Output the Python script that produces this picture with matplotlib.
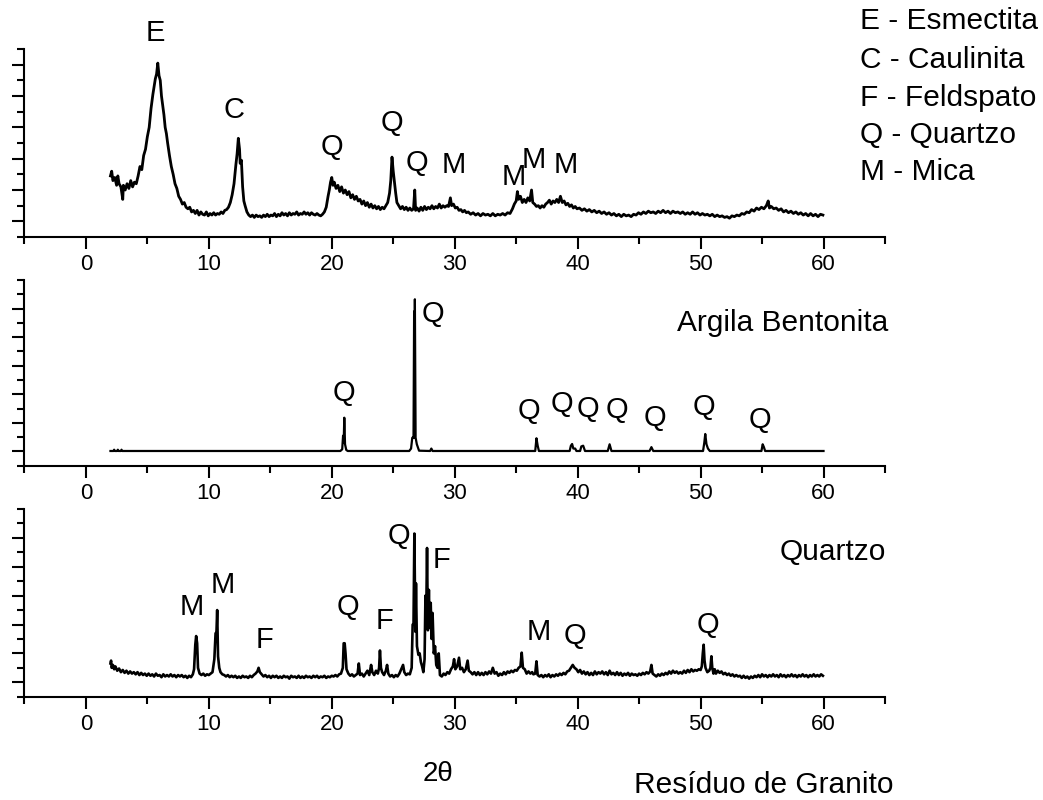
import matplotlib
matplotlib.use('Agg')
import matplotlib.pyplot as plt

plt.rcParams['font.family'] = ['Liberation Sans', 'DejaVu Sans']

# Argila Bentonita (top panel)
bent_x = [
    2.00, 2.10, 2.20, 2.35, 2.50, 2.60, 2.70, 2.85, 3.00, 3.05,
    3.20, 3.35, 3.50, 3.65, 3.80, 3.95, 4.10, 4.25, 4.40, 4.55,
    4.70, 4.85, 5.00, 5.15, 5.30, 5.45, 5.55, 5.65, 5.75, 5.85,
    5.95, 6.05, 6.15, 6.25, 6.35, 6.45, 6.55, 6.65, 6.80, 6.95,
    7.10, 7.25, 7.40, 7.55, 7.70, 7.85, 8.00, 8.15, 8.30, 8.45,
    8.60, 8.75, 8.90, 9.05, 9.20, 9.35, 9.50, 9.65, 9.80, 9.95,
    10.10, 10.25, 10.40, 10.55, 10.70, 10.85, 11.00, 11.15, 11.30, 11.45,
    11.60, 11.75, 11.90, 12.05, 12.20, 12.30, 12.40, 12.50, 12.55, 12.65,
    12.75, 12.85, 12.95, 13.10, 13.25, 13.40, 13.55, 13.70, 13.85, 14.00,
    14.15, 14.30, 14.45, 14.60, 14.75, 14.90, 15.05, 15.20, 15.35, 15.50,
    15.65, 15.80, 15.95, 16.10, 16.25, 16.40, 16.55, 16.70, 16.85, 17.00,
    17.15, 17.30, 17.45, 17.60, 17.75, 17.90, 18.05, 18.20, 18.35, 18.50,
    18.65, 18.80, 18.95, 19.10, 19.25, 19.40, 19.55, 19.70, 19.80, 19.90,
    20.00, 20.10, 20.20, 20.35, 20.50, 20.65, 20.80, 20.95, 21.10, 21.25,
    21.40, 21.55, 21.70, 21.85, 22.00, 22.15, 22.30, 22.45, 22.60, 22.75,
    22.90, 23.05, 23.20, 23.35, 23.50, 23.65, 23.80, 23.95, 24.10, 24.25,
    24.40, 24.55, 24.70, 24.80, 24.90, 25.00, 25.10, 25.20, 25.30, 25.45,
    25.60, 25.75, 25.90, 26.05, 26.20, 26.35, 26.50, 26.65, 26.75, 26.82,
    26.95, 27.10, 27.25, 27.40, 27.55, 27.70, 27.85, 28.00, 28.15, 28.30,
    28.45, 28.60, 28.75, 28.90, 29.05, 29.20, 29.35, 29.50, 29.65, 29.75,
    29.90, 30.05, 30.20, 30.35, 30.50, 30.65, 30.80, 30.95, 31.10, 31.30,
    31.50, 31.70, 31.90, 32.10, 32.30, 32.50, 32.70, 32.90, 33.10, 33.30,
    33.50, 33.70, 33.90, 34.10, 34.30, 34.50, 34.70, 34.85, 35.00, 35.10,
    35.20, 35.35, 35.50, 35.65, 35.80, 35.95, 36.10, 36.25, 36.35, 36.50,
    36.65, 36.80, 36.95, 37.10, 37.25, 37.40, 37.55, 37.70, 37.85, 38.00,
    38.15, 38.30, 38.45, 38.60, 38.75, 38.90, 39.05, 39.20, 39.35, 39.50,
    39.65, 39.80, 39.95, 40.15, 40.35, 40.55, 40.75, 40.95, 41.15, 41.35,
    41.55, 41.75, 41.95, 42.15, 42.35, 42.55, 42.75, 42.95, 43.15, 43.35,
    43.55, 43.75, 43.95, 44.15, 44.35, 44.55, 44.75, 44.95, 45.15, 45.35,
    45.55, 45.75, 45.95, 46.15, 46.35, 46.55, 46.75, 46.95, 47.15, 47.35,
    47.55, 47.75, 47.95, 48.15, 48.35, 48.55, 48.75, 48.95, 49.15, 49.35,
    49.55, 49.75, 49.95, 50.15, 50.35, 50.55, 50.75, 50.95, 51.15, 51.35,
    51.55, 51.75, 51.95, 52.15, 52.35, 52.55, 52.75, 52.95, 53.15, 53.35,
    53.55, 53.75, 53.95, 54.15, 54.35, 54.55, 54.75, 54.95, 55.15, 55.35,
    55.50, 55.60, 55.75, 55.95, 56.15, 56.35, 56.55, 56.75, 56.95, 57.15,
    57.35, 57.55, 57.75, 57.95, 58.15, 58.35, 58.55, 58.75, 58.95, 59.15,
    59.35, 59.55, 59.75, 59.95,
]
bent_y = [
    3.9, 4.2, 3.6, 3.8, 3.3, 3.9, 3.4, 3.2, 2.4, 3.3,
    3.0, 3.4, 3.1, 3.6, 3.2, 3.5, 3.4, 3.9, 4.5, 4.3,
    5.2, 5.6, 6.4, 7.0, 8.2, 9.1, 9.6, 10.1, 10.4, 11.1,
    10.3, 10.0, 9.0, 8.4, 7.8, 7.0, 6.6, 6.0, 5.2, 4.5,
    4.0, 3.4, 3.1, 2.6, 2.4, 2.1, 2.2, 1.9, 1.8, 1.9,
    1.6, 1.7, 1.5, 1.7, 1.4, 1.6, 1.45, 1.4, 1.6, 1.35,
    1.5, 1.4, 1.55, 1.4, 1.5, 1.45, 1.6, 1.5, 1.7, 1.75,
    1.9, 2.2, 2.7, 3.4, 4.6, 5.3, 6.3, 5.6, 4.7, 4.9,
    3.2, 2.3, 2.0, 1.6, 1.4, 1.3, 1.4, 1.25, 1.4, 1.3,
    1.35, 1.25, 1.4, 1.3, 1.45, 1.3, 1.4, 1.35, 1.5, 1.3,
    1.45, 1.35, 1.55, 1.4, 1.5, 1.35, 1.55, 1.4, 1.5, 1.45,
    1.6, 1.4, 1.5, 1.45, 1.6, 1.45, 1.55, 1.4, 1.55, 1.45,
    1.4, 1.5, 1.4, 1.35, 1.45, 1.6, 1.9, 2.6, 3.0, 3.5,
    3.8, 3.3, 3.5, 3.1, 3.3, 2.9, 3.2, 2.8, 3.0, 2.7,
    2.9, 2.5, 2.7, 2.4, 2.6, 2.3, 2.4, 2.1, 2.3, 2.0,
    2.2, 1.9, 2.1, 1.85, 2.0, 1.8, 1.95, 1.75, 1.9, 1.8,
    2.0, 2.2, 2.8, 3.6, 5.1, 4.2, 3.5, 2.8, 2.2, 2.0,
    1.8, 1.95, 1.75, 1.9, 1.7, 1.85, 1.7, 1.8, 3.0, 1.7,
    1.85, 1.65, 1.9, 1.7, 1.95, 1.75, 1.9, 1.8, 2.0, 1.8,
    1.95, 1.85, 2.1, 1.85, 2.0, 1.9, 2.0, 1.95, 2.5, 2.0,
    2.1, 1.85, 1.9, 1.7, 1.75, 1.6, 1.7, 1.55, 1.6, 1.45,
    1.55, 1.4, 1.5, 1.35, 1.5, 1.4, 1.45, 1.35, 1.5, 1.35,
    1.45, 1.4, 1.5, 1.4, 1.55, 1.5, 1.8, 2.1, 2.3, 2.9,
    2.4, 2.6, 2.2, 2.4, 2.2, 2.5, 2.3, 3.0, 2.2, 2.1,
    1.95, 2.0, 1.85, 2.0, 1.9, 2.1, 2.2, 2.35, 2.1, 2.3,
    2.2, 2.4, 2.2, 2.6, 2.2, 2.3, 2.05, 2.15, 1.95, 2.05,
    1.85, 1.95, 1.8, 1.85, 1.7, 1.8, 1.65, 1.75, 1.6, 1.7,
    1.55, 1.65, 1.5, 1.6, 1.45, 1.55, 1.4, 1.5, 1.35, 1.45,
    1.3, 1.45, 1.35, 1.4, 1.3, 1.45, 1.4, 1.55, 1.45, 1.6,
    1.5, 1.65, 1.55, 1.6, 1.5, 1.65, 1.55, 1.7, 1.55, 1.65,
    1.5, 1.65, 1.55, 1.6, 1.5, 1.6, 1.45, 1.55, 1.45, 1.6,
    1.45, 1.55, 1.4, 1.5, 1.4, 1.45, 1.35, 1.45, 1.3, 1.4,
    1.3, 1.35, 1.25, 1.3, 1.2, 1.35, 1.3, 1.4, 1.35, 1.5,
    1.45, 1.6, 1.55, 1.75, 1.65, 1.85, 1.75, 1.9, 1.8, 2.0,
    2.3, 1.85, 1.95, 1.8, 1.85, 1.7, 1.8, 1.6, 1.7, 1.55,
    1.65, 1.5, 1.6, 1.45, 1.55, 1.4, 1.5, 1.35, 1.5, 1.35,
    1.45, 1.3, 1.45, 1.4,
]
bent_labels = ['E', 'C', 'Q', 'Q', 'Q', 'M', 'M', 'M', 'M']
bent_lx = [5.66, 12.05, 20.05, 24.9, 26.95, 29.9, 34.8, 36.4, 39.0]
bent_ly = [13.0, 8.1, 5.76, 7.28, 4.75, 4.6, 3.85, 4.9, 4.6]

# Quartzo (middle panel)
quartz_x = [
    2.0, 2.25, 2.3, 2.35, 2.55, 2.6, 2.65, 2.85, 2.9, 2.95,
    20.7, 20.85, 20.92, 20.97, 21.02, 21.08, 21.18, 21.3,
    26.3, 26.45, 26.55, 26.65, 26.7, 26.72, 26.76, 26.82, 26.92, 27.0, 27.1,
    28.0, 28.1, 28.2,
    36.55, 36.65, 36.75, 36.85,
    39.35, 39.45, 39.55, 39.65, 39.8, 39.9, 40.2, 40.3, 40.45, 40.6,
    42.45, 42.6, 42.75,
    45.85, 46.0, 46.15,
    50.2, 50.3, 50.38, 50.48, 50.6, 50.75,
    54.95, 55.05, 55.15, 55.25,
    60.0,
]
quartz_y = [
    1.03, 1.03, 1.12, 1.03, 1.03, 1.12, 1.03, 1.03, 1.12, 1.03,
    1.03, 1.15, 2.1, 1.6, 3.36, 1.5, 1.1, 1.03,
    1.03, 1.2, 1.96, 1.96, 10.8, 1.96, 11.65, 1.96, 1.5, 1.3, 1.05,
    1.03, 1.2, 1.03,
    1.03, 1.92, 1.4, 1.03,
    1.03, 1.4, 1.52, 1.2, 1.2, 1.03, 1.03, 1.35, 1.4, 1.03,
    1.03, 1.5, 1.03,
    1.03, 1.3, 1.03,
    1.03, 1.6, 2.22, 1.5, 1.2, 1.03,
    1.03, 1.5, 1.3, 1.03,
    1.03,
]
quartz_lx = [21.0, 28.2, 36.0, 38.75, 40.85, 43.2, 46.3, 50.25, 54.85]
quartz_ly = [5.1, 10.6, 3.8, 4.3, 4.0, 3.9, 3.35, 4.1, 3.2]

# Residuo de Granito (bottom panel)
gran_x = [
    2.00, 2.05, 2.10, 2.20, 2.30, 2.40, 2.55, 2.70, 2.85, 3.00,
    3.15, 3.30, 3.45, 3.60, 3.75, 3.90, 4.05, 4.20, 4.35, 4.50,
    4.65, 4.80, 4.95, 5.10, 5.25, 5.40, 5.55, 5.70, 5.85, 6.00,
    6.15, 6.30, 6.45, 6.60, 6.75, 6.90, 7.05, 7.20, 7.35, 7.50,
    7.65, 7.80, 7.95, 8.10, 8.25, 8.40, 8.55, 8.70, 8.80, 8.90,
    8.97, 9.05, 9.12, 9.25, 9.40, 9.55, 9.70, 9.85, 10.00, 10.15,
    10.30, 10.45, 10.55, 10.62, 10.68, 10.75, 10.85, 10.95, 11.10, 11.25,
    11.40, 11.55, 11.70, 11.85, 12.00, 12.15, 12.30, 12.45, 12.60, 12.75,
    12.90, 13.05, 13.20, 13.35, 13.50, 13.65, 13.80, 13.95, 14.05, 14.15,
    14.30, 14.45, 14.60, 14.75, 14.90, 15.05, 15.20, 15.35, 15.50, 15.65,
    15.80, 15.95, 16.10, 16.25, 16.40, 16.55, 16.70, 16.85, 17.00, 17.15,
    17.30, 17.45, 17.60, 17.75, 17.90, 18.05, 18.20, 18.35, 18.50, 18.65,
    18.80, 18.95, 19.10, 19.25, 19.40, 19.55, 19.70, 19.85, 20.00, 20.15,
    20.30, 20.45, 20.60, 20.75, 20.90, 20.97, 21.05, 21.12, 21.20, 21.35,
    21.50, 21.65, 21.80, 21.95, 22.10, 22.20, 22.30, 22.45, 22.60, 22.75,
    22.90, 23.05, 23.20, 23.30, 23.45, 23.60, 23.75, 23.85, 23.92, 24.00,
    24.10, 24.25, 24.40, 24.50, 24.60, 24.75, 24.90, 25.05, 25.20, 25.35,
    25.50, 25.65, 25.80, 25.90, 26.05, 26.20, 26.35, 26.50, 26.58, 26.65,
    26.72, 26.80, 26.85, 26.93, 27.05, 27.15, 27.25, 27.35, 27.45, 27.55,
    27.62, 27.68, 27.75, 27.82, 27.90, 27.97, 28.05, 28.12, 28.20, 28.30,
    28.40, 28.50, 28.60, 28.70, 28.80, 28.95, 29.10, 29.25, 29.40, 29.55,
    29.70, 29.85, 29.95, 30.05, 30.20, 30.35, 30.45, 30.60, 30.75, 30.90,
    31.05, 31.15, 31.30, 31.45, 31.60, 31.75, 31.90, 32.05, 32.20, 32.35,
    32.50, 32.65, 32.80, 32.95, 33.10, 33.25, 33.40, 33.55, 33.70, 33.85,
    34.00, 34.15, 34.30, 34.45, 34.60, 34.75, 34.90, 35.05, 35.20, 35.35,
    35.45, 35.55, 35.70, 35.85, 36.00, 36.15, 36.30, 36.40, 36.55, 36.65,
    36.75, 36.90, 37.05, 37.20, 37.35, 37.50, 37.65, 37.80, 37.95, 38.10,
    38.25, 38.40, 38.55, 38.70, 38.85, 39.00, 39.15, 39.30, 39.45, 39.60,
    39.75, 39.90, 40.05, 40.20, 40.35, 40.50, 40.65, 40.80, 40.95, 41.10,
    41.25, 41.40, 41.55, 41.70, 41.85, 42.00, 42.15, 42.30, 42.45, 42.60,
    42.75, 42.90, 43.05, 43.20, 43.35, 43.50, 43.65, 43.80, 43.95, 44.10,
    44.25, 44.40, 44.55, 44.70, 44.85, 45.00, 45.15, 45.30, 45.45, 45.60,
    45.75, 45.90, 46.00, 46.10, 46.25, 46.40, 46.55, 46.70, 46.85, 47.00,
    47.15, 47.30, 47.45, 47.60, 47.75, 47.90, 48.05, 48.20, 48.35, 48.50,
    48.65, 48.80, 48.95, 49.10, 49.25, 49.40, 49.55, 49.70, 49.85, 50.00,
    50.10, 50.18, 50.25, 50.32, 50.40, 50.55, 50.70, 50.80, 50.88, 50.95,
    51.05, 51.15, 51.25, 51.40, 51.55, 51.70, 51.85, 52.00, 52.15, 52.30,
    52.45, 52.60, 52.75, 52.90, 53.05, 53.20, 53.35, 53.50, 53.65, 53.80,
    53.95, 54.10, 54.25, 54.40, 54.55, 54.70, 54.85, 55.00, 55.15, 55.30,
    55.45, 55.60, 55.75, 55.90, 56.05, 56.20, 56.35, 56.50, 56.65, 56.80,
    56.95, 57.10, 57.25, 57.40, 57.55, 57.70, 57.85, 58.00, 58.15, 58.30,
    58.45, 58.60, 58.75, 58.90, 59.05, 59.20, 59.35, 59.50, 59.65, 59.80,
    59.95,
]
gran_y = [
    2.3, 2.5, 2.0, 2.2, 1.9, 2.1, 1.8, 1.95, 1.7, 1.85,
    1.65, 1.8, 1.6, 1.75, 1.6, 1.7, 1.55, 1.7, 1.5, 1.65,
    1.5, 1.6, 1.45, 1.6, 1.45, 1.55, 1.4, 1.6, 1.45, 1.5,
    1.35, 1.55, 1.4, 1.5, 1.4, 1.55, 1.4, 1.5, 1.35, 1.5,
    1.4, 1.5, 1.35, 1.45, 1.3, 1.45, 1.35, 1.55, 1.9, 3.6,
    4.2, 3.7, 2.0, 1.6, 1.5, 1.6, 1.45, 1.55, 1.5, 1.6,
    1.7, 2.6, 4.4, 4.4, 6.0, 2.8, 2.0, 1.7, 1.55, 1.5,
    1.4, 1.5, 1.35, 1.45, 1.35, 1.45, 1.3, 1.4, 1.3, 1.45,
    1.35, 1.4, 1.3, 1.45, 1.35, 1.5, 1.6, 1.75, 2.0, 1.7,
    1.55, 1.4, 1.5, 1.35, 1.45, 1.3, 1.45, 1.35, 1.45, 1.3,
    1.4, 1.3, 1.45, 1.35, 1.4, 1.25, 1.45, 1.35, 1.4, 1.3,
    1.45, 1.3, 1.4, 1.3, 1.45, 1.35, 1.4, 1.3, 1.45, 1.35,
    1.45, 1.3, 1.4, 1.35, 1.45, 1.3, 1.4, 1.35, 1.45, 1.4,
    1.5, 1.4, 1.55, 1.6, 2.0, 3.7, 3.7, 3.0, 1.9, 1.6,
    1.45, 1.55, 1.4, 1.5, 1.6, 2.3, 1.5, 1.6, 1.4, 1.6,
    1.8, 1.5, 2.2, 1.7, 1.5, 1.8, 1.6, 2.0, 3.2, 2.0,
    1.7, 1.5, 1.8, 2.2, 1.6, 1.4, 1.5, 1.35, 1.5, 1.4,
    1.6, 1.9, 2.2, 1.7, 1.5, 1.6, 1.55, 2.0, 5.0, 5.0,
    11.3, 4.5, 7.85, 3.5, 2.9, 3.0, 2.4, 2.1, 1.7, 2.6,
    7.0, 5.3, 10.3, 4.6, 7.4, 4.8, 6.5, 4.0, 5.8, 3.0,
    3.5, 2.2, 2.0, 3.0, 1.5, 1.4, 1.6, 1.5, 1.7, 1.6,
    1.9, 2.1, 2.6, 1.9, 2.1, 2.7, 1.9, 2.0, 1.7, 1.9,
    2.5, 1.8, 1.7, 1.55, 1.7, 1.5, 1.7, 1.5, 1.65, 1.5,
    1.7, 1.55, 1.75, 1.6, 2.0, 1.6, 1.7, 1.45, 1.6, 1.5,
    1.7, 1.55, 1.75, 1.65, 1.8, 1.7, 1.85, 1.8, 2.0, 2.1,
    3.05, 2.0, 1.9, 1.6, 1.75, 1.6, 1.7, 1.55, 1.6, 2.45,
    1.5, 1.4, 1.5, 1.35, 1.5, 1.4, 1.55, 1.35, 1.5, 1.4,
    1.55, 1.45, 1.6, 1.5, 1.65, 1.55, 1.75, 1.8, 2.0, 2.2,
    2.0, 1.9, 1.7, 1.85, 1.6, 1.75, 1.55, 1.7, 1.5, 1.65,
    1.5, 1.75, 1.55, 1.7, 1.6, 1.75, 1.55, 1.7, 1.5, 1.8,
    1.55, 1.65, 1.5, 1.7, 1.5, 1.65, 1.45, 1.6, 1.5, 1.65,
    1.45, 1.6, 1.5, 1.55, 1.45, 1.6, 1.5, 1.65, 1.55, 1.7,
    1.6, 1.75, 2.2, 1.6, 1.5, 1.4, 1.55, 1.45, 1.6, 1.5,
    1.65, 1.55, 1.75, 1.6, 1.8, 1.65, 1.75, 1.6, 1.7, 1.6,
    1.8, 1.65, 1.85, 1.7, 1.9, 1.75, 1.85, 1.8, 1.9, 1.85,
    2.1, 3.0, 3.6, 2.5, 2.0, 1.7, 1.8, 2.0, 2.8, 2.0,
    1.6, 1.9, 1.6, 1.8, 1.65, 1.75, 1.55, 1.65, 1.5, 1.6,
    1.45, 1.55, 1.4, 1.5, 1.4, 1.45, 1.3, 1.45, 1.3, 1.4,
    1.25, 1.4, 1.3, 1.45, 1.35, 1.5, 1.35, 1.55, 1.4, 1.5,
    1.35, 1.5, 1.4, 1.55, 1.4, 1.5, 1.35, 1.55, 1.4, 1.5,
    1.35, 1.5, 1.4, 1.55, 1.4, 1.5, 1.35, 1.5, 1.4, 1.55,
    1.4, 1.5, 1.35, 1.5, 1.4, 1.55, 1.4, 1.5, 1.4, 1.55,
    1.45,
]
gran_labels = ['M', 'M', 'F', 'Q', 'F', 'Q', 'F', 'M', 'Q', 'Q']
gran_lx = [8.6, 11.1, 14.5, 21.3, 24.3, 25.45, 28.9, 36.8, 39.8, 50.6]
gran_ly = [6.2, 7.75, 3.95, 6.2, 5.26, 11.15, 9.47, 4.5, 4.22, 4.97]

legend_lines = ['E - Esmectita', 'C - Caulinita', 'F - Feldspato',
                'Q - Quartzo', 'M - Mica']

W, H = 1043, 800
fig = plt.figure(figsize=(W / 100, H / 100), dpi=100)


def px(x, y):
    # pixel position (from top-left) -> figure fraction
    return x / W, 1 - y / H


def panel(top, bottom, ymax):
    left, right = 24.4, 885.0
    ax = fig.add_axes([left / W, 1 - bottom / H, (right - left) / W, (bottom - top) / H])
    ax.set_xlim(-5, 65)
    ax.set_ylim(0, ymax)
    for s in ['top', 'right']:
        ax.spines[s].set_visible(False)
    for s in ['left', 'bottom']:
        ax.spines[s].set_linewidth(1.5)
    ax.set_xticks(range(0, 61, 10))
    ax.set_xticks(range(-5, 66, 10), minor=True)
    ax.set_yticks([1, 3, 5, 7, 9, 11])
    ax.set_yticks(list(range(0, 13, 2)) + ([13] if ymax > 12 else []), minor=True)
    ax.set_yticklabels([])
    ax.tick_params(which='major', direction='out', length=8.5, width=1.5,
                   labelsize=16, pad=4)
    ax.tick_params(which='minor', direction='out', length=5, width=1.5)
    return ax


ax1 = panel(49, 237, 12)
ax2 = panel(280, 465.7, 13)
ax3 = panel(509, 696.7, 13)

ax1.plot(bent_x, bent_y, color='black', lw=2.0)
ax2.plot(quartz_x, quartz_y, color='black', lw=1.6)
ax3.plot(gran_x, gran_y, color='black', lw=1.9)

for t, x, y in zip(bent_labels, bent_lx, bent_ly):
    ax1.text(x, y, t, ha='center', va='center', fontsize=21, clip_on=False)
for x, y in zip(quartz_lx, quartz_ly):
    ax2.text(x, y, 'Q', ha='center', va='center', fontsize=21)
for t, x, y in zip(gran_labels, gran_lx, gran_ly):
    ax3.text(x, y, t, ha='center', va='center', fontsize=21)

for i, line in enumerate(legend_lines):
    fig.text(*px(860, [21, 60, 98, 135, 172][i]), line, ha='left', va='center', fontsize=21.5)

fig.text(*px(677, 323), 'Argila Bentonita', ha='left', va='center', fontsize=21.5)
fig.text(*px(780, 552), 'Quartzo', ha='left', va='center', fontsize=21.5)
fig.text(*px(634, 785), 'Resíduo de Granito', ha='left', va='center', fontsize=21.5)
fig.text(*px(438, 774), '2θ', ha='center', va='center', fontsize=20)

fig.savefig('out.png', dpi=100, facecolor='white')
